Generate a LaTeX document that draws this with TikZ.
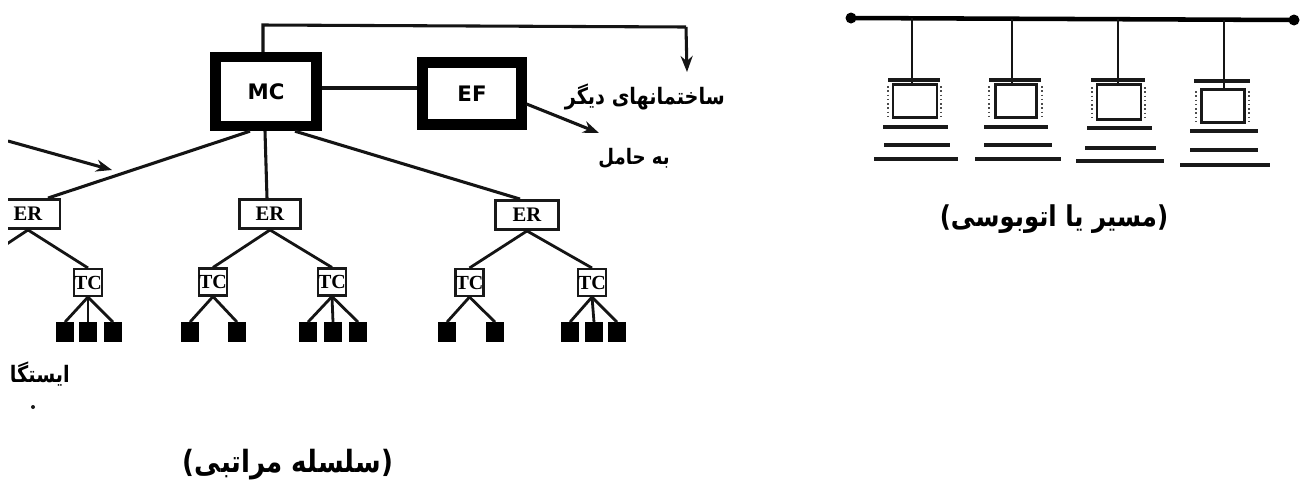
\documentclass[tikz,border=0pt]{standalone}
\usepackage{fontspec}
\usetikzlibrary{arrows.meta}
\setmainfont{Liberation Serif}
\newfontfamily\arabicfont[Script=Arabic,FakeStretch=0.85]{DejaVu Sans}
\newfontfamily\labelsans{DejaVu Sans}
\TeXXeTstate=1
\tikzset{
  ln/.style={line width=2.3pt,black!92},
  thin ln/.style={line width=2.1pt,black!92},
  arrowed/.style={ln,-{Stealth[length=12pt,width=9pt]}},
  bigbox/.style={draw=black,line width=7.8pt,inner sep=0pt,font=\labelsans\bfseries\fontsize{16pt}{16pt}\selectfont},
  erbox/.style={draw=black!90,line width=1.9pt,inner sep=0pt,font=\bfseries\fontsize{15.5pt}{16pt}\selectfont},
  tcbox/.style={draw=black!90,line width=1.8pt,inner sep=0pt,font=\bfseries\fontsize{15pt}{16pt}\selectfont,minimum width=21pt,minimum height=20pt},
  sq/.style={fill=black,inner sep=0pt,minimum width=13pt,minimum height=14.5pt},
  screen/.style={draw=black!90,line width=2pt,inner sep=0pt},
  fa/.style={inner sep=0pt,font=\arabicfont\bfseries\fontsize{#1}{#1}\selectfont},
}
\begin{document}
\begin{tikzpicture}[x=0.75pt,y=-0.75pt]
\useasboundingbox (0,0) rectangle (1302,487);
\fill[white] (0,0) rectangle (1302,487);
\begin{scope}
\clip (8,0) rectangle (800,487);
% main boxes
\node[bigbox,minimum width=76pt,minimum height=51.75pt] (mc) at (266,91.5) {MC};
\node[bigbox,minimum width=74pt,minimum height=46.5pt] (ef) at (472,93.5) {EF};
% ER
\node[erbox,minimum width=48pt,minimum height=22pt] (er1) at (28,214) {ER};
\node[erbox,minimum width=46pt,minimum height=22pt] (er2) at (270,214) {ER};
\node[erbox,minimum width=47pt,minimum height=22pt] (er3) at (527,215) {ER};
% TC
\node[tcbox] (tc1) at (88,282.5) {TC};
\node[tcbox] (tc2) at (213,282) {TC};
\node[tcbox] (tc3) at (332,282) {TC};
\node[tcbox] (tc4) at (469.5,282.5) {TC};
\node[tcbox] (tc5) at (592,282.5) {TC};
% stations
\foreach \n/\x in {a/65,b/88,c/113,d/190,e/237,f/308,g/333,h/358,i/447,j/495,k/570,l/594,m/617}
  \node[sq] (s\n) at (\x,332) {};
% free ends
\coordinate (inA) at (8,141);
\coordinate (inB) at (112,170);
\coordinate (offL) at (-25,265);
\coordinate (bend1) at (263,25);
\coordinate (bend2) at (686,27);
\coordinate (otherB) at (687,72);
\coordinate (carrier) at (599,133);
% connectors
\draw[ln] (mc.north -| bend1) -- (bend1) -- (bend2);
\draw[arrowed] (bend2) -- (otherB);
\draw[ln] (mc.east |- 0,88) -- (ef.west |- 0,88);
\draw[arrowed] (ef.east |- 0,104) -- (carrier);
\draw[arrowed] (inA) -- (inB);
\draw[ln] (mc.south -| 250,0) -- (er1.north -| 48,0);
\draw[ln] (mc.south -| 265,0) -- (er2.north -| 267,0);
\draw[ln] (mc.south -| 295,0) -- (er3.north -| 520,0);
\draw[thin ln] (er1.south) -- (offL);
\draw[thin ln] (er1.south) -- (tc1.north);
\draw[thin ln] (er2.south) -- (tc2.north);
\draw[thin ln] (er2.south) -- (tc3.north);
\draw[thin ln] (er3.south) -- (tc4.north);
\draw[thin ln] (er3.south) -- (tc5.north);
\foreach \t/\s in {tc1/a,tc1/b,tc1/c,tc2/d,tc2/e,tc3/f,tc3/g,tc3/h,tc4/i,tc4/j,tc5/k,tc5/l,tc5/m}
  \draw[thin ln] (\t.south) -- (s\s.north);
% labels
\node[fa=17pt,anchor=east] (other) at (725,97) {\beginR ساختمانهای دیگر\endR};
\node[fa=16pt,anchor=east] (carr) at (670,158) {\beginR به حامل\endR};
\node[fa=17pt,anchor=east] (stat) at (70,374) {\beginR ایستگا\endR};
\node[fa=23pt] (cap1) at (288,465) {\beginR (سلسله مراتبی)\endR};
\end{scope}
\fill[black!90] (33,407) circle (2);
% bus
\coordinate (busL) at (851,18);
\coordinate (busR) at (1294,20);
\draw[line width=3.4pt,black] (busL) -- (busR);
\fill[black] (busL) circle (5.5);
\fill[black] (busR) circle (5.5);
\foreach \i/\bx/\sx/\sw/\sy/\sh/\tl/\tr/\ty/\al/\ar/\ay/\bl/\br/\by/\cl/\cr/\cy in {
  1/912/915/44/101/33/888/940/80/883/948/127/884/950/145/874/958/159,
  2/1012/1016/41/101/33/989/1041/80/984/1048/127/984/1052/145/975/1061/159,
  3/1118/1119/44/102/35/1091/1145/80/1087/1152/128/1085/1156/148/1076/1164/161,
  4/1224/1223/43/106/33/1194/1250/81/1190/1258/131/1190/1258/150/1180/1270/165}{
  \node[screen,minimum width=\sw*0.75pt,minimum height=\sh*0.75pt] (scr\i) at (\sx,\sy) {};
  \coordinate (bus\i) at (\bx,{18+(\bx-851)*2/443});
  \draw[thin ln] (bus\i) -- (bus\i |- scr\i.north);
  \draw[line width=2.5pt,black!90] (\tl,\ty) -- (\tr,\ty);
  \draw[line width=2.5pt,black!90] (\al,\ay) -- (\ar,\ay);
  \draw[line width=2.5pt,black!90] (\bl,\by) -- (\br,\by);
  \draw[line width=2.5pt,black!90] (\cl,\cy) -- (\cr,\cy);
  \draw[line width=1.2pt,black!70,dotted] (\sx-27,\sy-15) -- (\sx-27,\sy+18);
  \draw[line width=1.2pt,black!70,dotted] (\sx+26,\sy-15) -- (\sx+26,\sy+18);
}
\node[fa=21.5pt] (cap2) at (1054,219) {\beginR (مسیر یا اتوبوسی)\endR};
\end{tikzpicture}
\end{document}
